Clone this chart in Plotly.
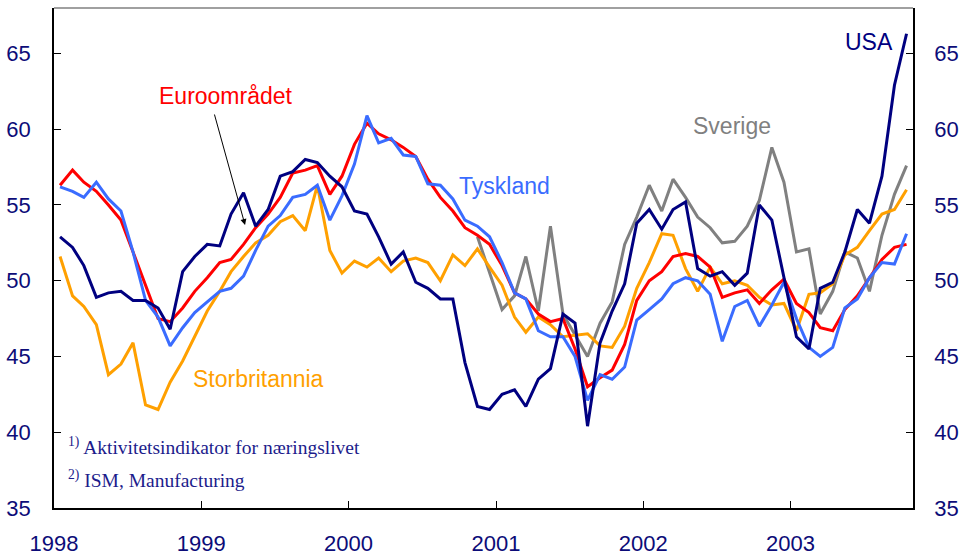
import pandas as pd
import plotly.graph_objects as go

# ---- data (monthly, Jan 1998 - Oct 2003) ----
start_month = "1998-01-01"
n_months = 70

usa = [52.9, 52.2, 51.0, 48.9, 49.2, 49.3, 48.7, 48.7, 48.2, 46.8, 50.6, 51.6,
       52.4, 52.3, 54.4, 55.8, 53.6, 54.7, 56.9, 57.2, 58.0, 57.8, 56.9, 56.2,
       54.6, 54.4, 52.9, 51.1, 51.9, 49.9, 49.5, 48.8, 48.8, 44.6, 41.7, 41.5,
       42.5, 42.8, 41.7, 43.5, 44.2, 47.8, 47.2, 40.4, 45.9, 48.0, 49.8, 53.8,
       54.7, 53.4, 54.7, 55.2, 50.8, 50.3, 50.6, 49.7, 50.5, 55.0, 54.0, 50.2,
       46.3, 45.5, 49.5, 49.9, 51.9, 54.7, 53.8, 56.9, 62.9, 66.3]

euro = [56.3, 57.3, 56.5, 55.9, 55.0, 54.0, 51.9, 49.7, 47.5, 47.3, 48.2, 49.3,
        50.2, 51.2, 51.4, 52.4, 53.5, 54.4, 55.5, 57.1, 57.3, 57.6, 55.7, 56.9,
        59.0, 60.4, 59.7, 59.3, 58.8, 58.2, 56.7, 55.5, 54.6, 53.5, 53.0, 52.4,
        51.0, 49.2, 48.8, 47.8, 47.3, 47.5, 45.5, 43.0, 43.6, 44.1, 45.8, 48.7,
        50.0, 50.6, 51.6, 51.8, 51.6, 50.9, 48.9, 49.2, 49.4, 48.5, 49.4, 50.1,
        48.5, 47.9, 46.9, 46.7, 48.1, 49.0, 50.2, 51.4, 52.2, 52.4]

tyskland = [56.2, 55.9, 55.5, 56.5, 55.4, 54.6, 51.9, 48.7, 47.6, 45.7, 46.9, 47.9,
            48.6, 49.3, 49.5, 50.3, 52.0, 53.6, 54.3, 55.5, 55.7, 56.3, 54.0, 55.6,
            57.7, 60.9, 59.1, 59.4, 58.3, 58.2, 56.4, 56.3, 55.4, 54.0, 53.6, 52.9,
            51.2, 49.2, 48.8, 46.7, 46.3, 46.3, 45.0, 42.1, 43.8, 43.5, 44.3, 47.4,
            48.1, 48.8, 49.8, 50.2, 50.0, 49.1, 46.0, 48.3, 48.7, 47.0, 48.4, 49.9,
            47.5, 45.6, 45.0, 45.6, 48.2, 48.8, 50.2, 51.2, 51.1, 53.1]

storbritannia = [51.6, 49.0, 48.3, 47.1, 43.8, 44.5, 45.9, 41.8, 41.5, 43.3, 44.7, 46.3,
                 48.0, 49.3, 50.6, 51.6, 52.5, 53.0, 53.9, 54.3, 53.3, 56.3, 52.0, 50.5,
                 51.3, 50.9, 51.5, 50.6, 51.3, 51.5, 51.2, 50.0, 51.7, 51.0, 52.1, 50.9,
                 49.7, 47.6, 46.6, 47.6, 47.1, 46.3, 46.4, 46.5, 45.7, 45.6, 47.0, 49.5,
                 51.2, 53.1, 53.0, 50.8, 49.3, 50.9, 49.8, 50.0, 49.7, 48.9, 48.4, 48.5,
                 46.7, 49.1, 49.2, 49.8, 51.7, 52.2, 53.3, 54.4, 54.7, 56.0]

sverige = [None] * 34 + [52.9, 50.6,
           48.1, 49.0, 51.6, 48.0, 53.6, 47.8, 46.4, 45.0, 47.2, 48.6, 52.4, 54.2,
           56.3, 54.6, 56.7, 55.5, 54.2, 53.5, 52.5, 52.6, 53.6, 55.3, 58.8, 56.5,
           51.9, 52.1, 47.8, 49.3, 51.9, 51.5, 49.3, 53.0, 55.7, 57.6]

year_ticks = [1998, 1999, 2000, 2001, 2002, 2003]
y_ticks = [35, 40, 45, 50, 55, 60, 65]

# ---- figure ----
dates = pd.date_range(start_month, periods=n_months, freq="MS") + pd.Timedelta(days=15)

C_USA = "#000080"
C_EURO = "#ff0000"
C_DE = "#3a6cff"
C_UK = "#ffa000"
C_SE = "#808080"
TICK_COL = "#0c0c78"
FONT = "Liberation Sans, Arial, sans-serif"

fig = go.Figure()
series = [
    ("Sverige", sverige, C_SE),
    ("Storbritannia", storbritannia, C_UK),
    ("Euroområdet", euro, C_EURO),
    ("Tyskland", tyskland, C_DE),
    ("USA", usa, C_USA),
]
for name, vals, col in series:
    fig.add_trace(go.Scatter(x=dates, y=vals, mode="lines", name=name,
                             line=dict(color=col, width=3), connectgaps=False,
                             showlegend=False))

# invisible trace for the right-hand axis
fig.add_trace(go.Scatter(x=[dates[0]], y=[None], yaxis="y2", showlegend=False,
                         hoverinfo="skip"))

x_end = (pd.Timestamp(start_month) + pd.DateOffset(months=n_months)).strftime("%Y-%m-%d")

axis_common = dict(showline=True, linecolor="black", linewidth=1.5, ticks="inside",
                   ticklen=7, tickwidth=1.2, tickcolor="black", showgrid=False,
                   zeroline=False, automargin=False,
                   tickfont=dict(family=FONT, size=22, color=TICK_COL))

fig.update_layout(
    width=962, height=556,
    margin=dict(l=54, r=49, t=8, b=48),
    plot_bgcolor="white", paper_bgcolor="white",
    xaxis=dict(range=[start_month, x_end], type="date",
               tickvals=[f"{y}-01-01" for y in year_ticks],
               ticktext=[str(y) for y in year_ticks],
               ticklabelstandoff=15, **axis_common),
    yaxis=dict(range=[35, 68], tickvals=y_ticks, ticklabelstandoff=17, **axis_common),
    yaxis2=dict(range=[35, 68], tickvals=y_ticks, overlaying="y", side="right",
                ticklabelstandoff=15, **axis_common),
    shapes=[dict(type="line", xref="paper", yref="paper", x0=0, x1=1, y0=1, y1=1,
                 line=dict(color="#808080", width=1.5))],
)

def label(text, x, y, color):
    fig.add_annotation(text=text, xref="paper", yref="paper", x=x, y=y,
                       showarrow=False, xanchor="center", yanchor="middle",
                       font=dict(family=FONT, size=23, color=color))

label("Euroområdet", 0.2008, 0.824, C_EURO)
label("Tyskland", 0.525, 0.644, C_DE)
label("Sverige", 0.789, 0.764, C_SE)
label("USA", 0.949, 0.932, C_USA)
label("Storbritannia", 0.2375, 0.258, C_UK)

# arrow for Euroområdet
fig.add_annotation(xref="paper", yref="paper", x=0.2224, y=0.566, text="",
                   showarrow=True, ax=-31, ay=-112, arrowhead=2, arrowsize=1.2,
                   arrowwidth=1, arrowcolor="black")

FOOT_COL = "#1c1c8c"
FOOT_FONT = dict(family="Liberation Serif, Times New Roman, serif", size=19.5, color=FOOT_COL)
fig.add_annotation(text="<sup>1)</sup> Aktivitetsindikator for næringslivet",
                   xref="paper", yref="paper", x=0.0140, y=0.124, showarrow=False,
                   xanchor="left", yanchor="middle", font=FOOT_FONT)
fig.add_annotation(text="<sup>2)</sup> ISM, Manufacturing",
                   xref="paper", yref="paper", x=0.0140, y=0.058, showarrow=False,
                   xanchor="left", yanchor="middle", font=FOOT_FONT)

fig.write_html("out.html", config={"displayModeBar": False},
               post_script="document.body.style.margin='0';document.body.style.overflow='hidden';")
